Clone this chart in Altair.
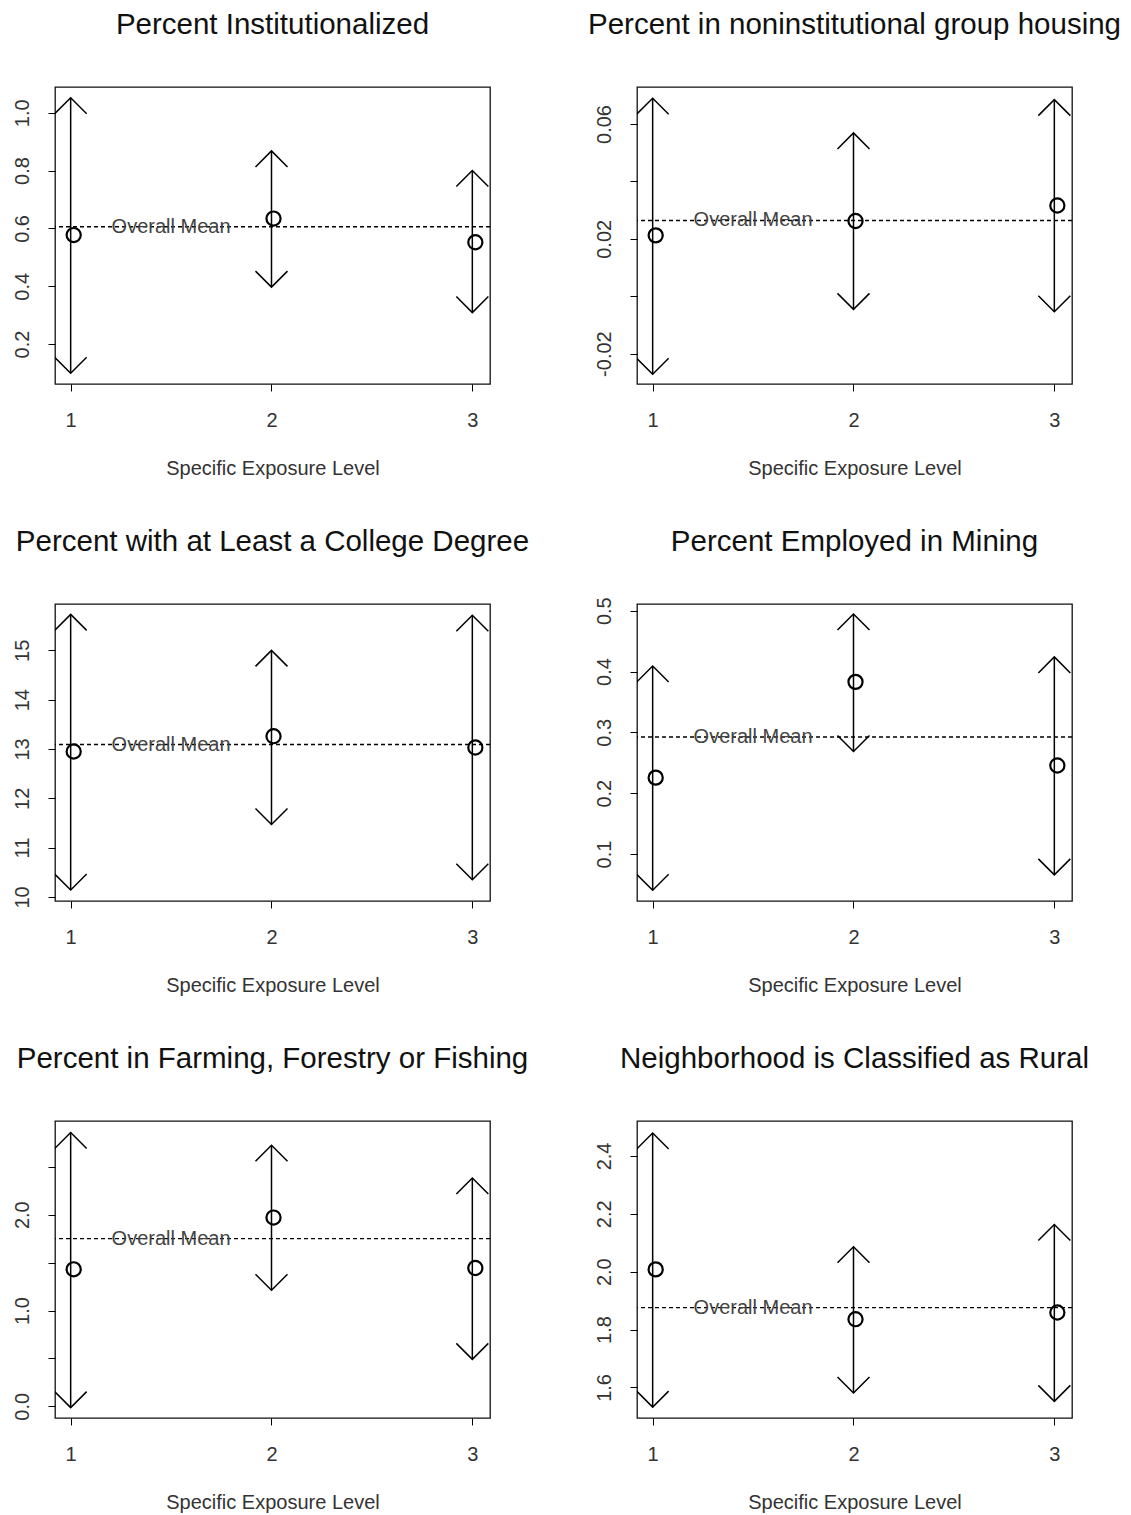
import altair as alt
import pandas as pd

# ---------------- data ----------------
levels = [1, 2, 3]
point_x = [1.015, 2.01, 3.015]          # circles sit slightly right of the arrows
x_domain = [0.922, 3.088]
x_label = "Specific Exposure Level"
mean_label = "Overall Mean"
mean_label_x = 1.5

titles = [
    "Percent Institutionalized",
    "Percent in noninstitutional group housing",
    "Percent with at Least a College Degree",
    "Percent Employed in Mining",
    "Percent in Farming, Forestry or Fishing",
    "Neighborhood is Classified as Rural",
]

inst_est = [0.577, 0.634, 0.552]
inst_lo = [0.099, 0.397, 0.309]
inst_hi = [1.052, 0.868, 0.800]
inst_mean = 0.606
inst_dom = [0.062, 1.089]
inst_ticks = [0.2, 0.4, 0.6, 0.8, 1.0]
inst_labels = ["0.2", "0.4", "0.6", "0.8", "1.0"]

group_est = [0.0212, 0.0262, 0.0316]
group_lo = [-0.0272, -0.0046, -0.0054]
group_hi = [0.0690, 0.0569, 0.0685]
group_mean = 0.0264
group_dom = [-0.0306, 0.0729]
group_ticks = [-0.02, 0.0, 0.02, 0.04, 0.06]
group_labels = ["-0.02", "", "0.02", "", "0.06"]

coll_est = [12.95, 13.26, 13.03]
coll_lo = [10.14, 11.47, 10.35]
coll_hi = [15.73, 15.00, 15.71]
coll_mean = 13.09
coll_dom = [9.918, 15.94]
coll_ticks = [10, 11, 12, 13, 14, 15]
coll_labels = ["10", "11", "12", "13", "14", "15"]

mine_est = [0.2255, 0.383, 0.2454]
mine_lo = [0.0404, 0.2686, 0.0657]
mine_hi = [0.409, 0.4945, 0.424]
mine_mean = 0.2924
mine_dom = [0.0227, 0.511]
mine_ticks = [0.1, 0.2, 0.3, 0.4, 0.5]
mine_labels = ["0.1", "0.2", "0.3", "0.4", "0.5"]

farm_est = [1.43, 1.97, 1.444]
farm_lo = [-0.014, 1.211, 0.49]
farm_hi = [2.857, 2.724, 2.383]
farm_mean = 1.75
farm_dom = [-0.122, 2.978]
farm_ticks = [0.0, 0.5, 1.0, 1.5, 2.0, 2.5]
farm_labels = ["0.0", "", "1.0", "", "2.0", ""]

rural_est = [2.008, 1.836, 1.859]
rural_lo = [1.532, 1.581, 1.552]
rural_hi = [2.479, 2.086, 2.163]
rural_mean = 1.876
rural_dom = [1.4945, 2.5207]
rural_ticks = [1.6, 1.8, 2.0, 2.2, 2.4]
rural_labels = ["1.6", "1.8", "2.0", "2.2", "2.4"]

FONT = "Liberation Sans"
PANEL_W, PANEL_H = 435, 297


def label_expr(ticks, labels):
    expr = "''"
    for t, l in reversed(list(zip(ticks, labels))):
        expr = f"abs(datum.value - ({t})) < 1e-9 ? '{l}' : ({expr})"
    return expr


def panel(title, est, lo, hi, mean, ydom, yticks, ylabels, title_offset=24):
    df = pd.DataFrame({"level": levels, "px": point_x, "est": est, "lo": lo, "hi": hi})
    mdf = pd.DataFrame({"mean": [mean], "lx": [mean_label_x], "label": [mean_label]})

    xs = alt.Scale(domain=x_domain, nice=False, zero=False)
    ys = alt.Scale(domain=ydom, nice=False, zero=False)
    xaxis = alt.Axis(values=levels, format="d", title=x_label, grid=False, domain=False,
                     tickSize=7, tickColor="black", labelPadding=19, titlePadding=28,
                     labelFontSize=20, titleFontSize=20, titleFontWeight="normal",
                     labelFont=FONT, titleFont=FONT, labelColor="#333", titleColor="#333")
    yaxis = alt.Axis(values=yticks, labelExpr=label_expr(yticks, ylabels), title=None,
                     grid=False, domain=False, tickSize=7, tickColor="black",
                     labelAngle=270, labelAlign="center", labelBaseline="alphabetic",
                     labelPadding=20, labelFontSize=20, labelFont=FONT, labelColor="#333",
                     labelOverlap=False)

    def X(f):
        return alt.X(f, type="quantitative", scale=xs, axis=xaxis)

    def Y(f):
        return alt.Y(f, type="quantitative", scale=ys, axis=yaxis)

    base = alt.Chart(df)
    shaft = base.mark_rule(color="black", strokeWidth=1.5).encode(
        x=X("level"), y=Y("lo"), y2="hi")
    head_top = base.mark_point(shape="M -1 1 L 0 0 L 1 1", size=1024, filled=False,
                               color="black", strokeWidth=1.5, opacity=1, clip=True).encode(
        x=X("level"), y=Y("hi"))
    head_bot = base.mark_point(shape="M -1 -1 L 0 0 L 1 -1", size=1024, filled=False,
                               color="black", strokeWidth=1.5, opacity=1, clip=True).encode(
        x=X("level"), y=Y("lo"))
    mline = alt.Chart(mdf).mark_rule(color="black", strokeWidth=1.4, strokeDash=[4, 3]).encode(
        y=Y("mean"))
    mtext = alt.Chart(mdf).mark_text(font=FONT, fontSize=20, color="#444", align="center",
                                     baseline="middle").encode(
        x=X("lx"), y=Y("mean"), text="label:N")
    pts = base.mark_point(shape="circle", size=200, filled=False, color="black",
                          strokeWidth=2.2, opacity=1).encode(x=X("px"), y=Y("est"))

    return alt.layer(shaft, head_top, head_bot, mline, mtext, pts).properties(
        width=PANEL_W, height=PANEL_H,
        title=alt.TitleParams(title, font=FONT, fontSize=29.5, fontWeight="normal",
                              color="#111", anchor="middle", baseline="alphabetic",
                              offset=title_offset))


panels = [
    panel(titles[0], inst_est, inst_lo, inst_hi, inst_mean, inst_dom, inst_ticks, inst_labels),
    panel(titles[1], group_est, group_lo, group_hi, group_mean, group_dom, group_ticks, group_labels),
    panel(titles[2], coll_est, coll_lo, coll_hi, coll_mean, coll_dom, coll_ticks, coll_labels),
    # the "0.5" tick label pokes above the frame, which pushes the title up; compensate
    panel(titles[3], mine_est, mine_lo, mine_hi, mine_mean, mine_dom, mine_ticks, mine_labels,
          title_offset=16),
    panel(titles[4], farm_est, farm_lo, farm_hi, farm_mean, farm_dom, farm_ticks, farm_labels),
    panel(titles[5], rural_est, rural_lo, rural_hi, rural_mean, rural_dom, rural_ticks, rural_labels),
]

chart = alt.concat(*panels, columns=2, spacing={"row": 220, "column": 147},
                   bounds="flush").properties(
    padding={"left": 3, "top": 0, "right": 0, "bottom": 0},
    background="white").configure_view(stroke="#111", strokeWidth=1.3)

chart.save("out.html", embed_options={"renderer": "svg", "actions": False})
